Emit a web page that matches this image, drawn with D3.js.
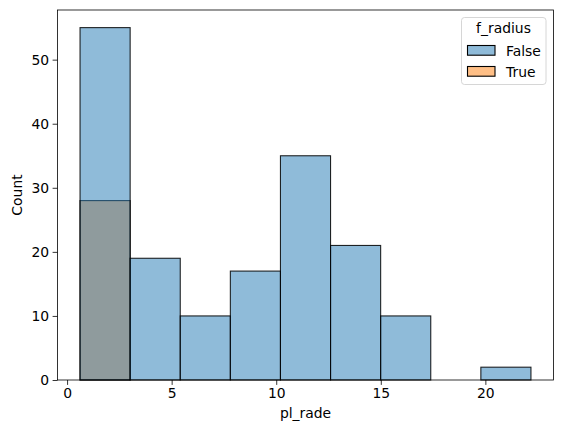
<!DOCTYPE html>
<html>
<head>
<meta charset="utf-8">
<script src="https://cdn.jsdelivr.net/npm/d3@7"></script>
<style>
body{margin:0;background:#fff;}
svg{display:block;font-family:"DejaVu Sans",sans-serif;}
</style>
</head>
<body>
<svg id="c" width="562" height="433"></svg>
<script>
const binStart = 0.62;
const binEnd = 22.18;
const countsFalse = [55, 19, 10, 17, 35, 21, 10, 0, 2];
const countsTrue = [28, 0, 0, 0, 0, 0, 0, 0, 0];
const xTicks = [0, 5, 10, 15, 20];
const yTicks = [0, 10, 20, 30, 40, 50];
const legendLabels = ["False", "True"];
const legendTitle = "f_radius";

const svg = d3.select("#c");
const L = 57.5, R = 553.5, T = 10, B = 380;
const nb = countsFalse.length;
const bw = (binEnd - binStart) / nb;
const span = binEnd - binStart;
const x = d3.scaleLinear().domain([binStart - 0.05 * span, binEnd + 0.05 * span]).range([L, R]);
const y = d3.scaleLinear().domain([0, d3.max(countsFalse) * 1.05]).range([B, T]);

const colFalse = "#1f77b4", colTrue = "#ff7f0e";

function drawBars(counts, col) {
  svg.append("g").selectAll("rect").data(counts).join("rect")
    .attr("x", (d, i) => x(binStart + i * bw))
    .attr("width", (d, i) => x(binStart + (i + 1) * bw) - x(binStart + i * bw))
    .attr("y", d => y(d))
    .attr("height", d => y(0) - y(d))
    .attr("fill", col).attr("fill-opacity", 0.5)
    .attr("stroke", "#000").attr("stroke-opacity", 0.85).attr("stroke-width", 1.1);
}
drawBars(countsTrue, colTrue);
drawBars(countsFalse, colFalse);

// axes
const xa = svg.append("g").attr("transform", `translate(0,${B})`)
  .call(d3.axisBottom(x).tickValues(xTicks).tickSize(4.9).tickPadding(3.5).tickFormat(d3.format("d")));
const ya = svg.append("g").attr("transform", `translate(${L},0)`)
  .call(d3.axisLeft(y).tickValues(yTicks).tickSize(4.9).tickPadding(3.5).tickFormat(d3.format("d")));
[xa, ya].forEach(a => {
  a.select(".domain").remove();
  a.selectAll("line").attr("stroke", "#000").attr("stroke-width", 0.8);
  a.selectAll("text").attr("font-size", "13.9px").attr("fill", "#000").attr("font-family", "DejaVu Sans");
});
svg.append("rect").attr("x", L).attr("y", T).attr("width", R - L).attr("height", B - T)
  .attr("fill", "none").attr("stroke", "#000").attr("stroke-width", 0.8);

svg.append("text").attr("x", (L + R) / 2).attr("y", 418).attr("text-anchor", "middle")
  .attr("font-size", "13.9px").text("pl_rade");
svg.append("text").attr("transform", `translate(21.5,${(T + B) / 2}) rotate(-90)`)
  .attr("text-anchor", "middle").attr("font-size", "13.9px").text("Count");

// legend
const lg = svg.append("g");
lg.append("rect").attr("x", 461.5).attr("y", 17.5).attr("width", 84.5).attr("height", 67)
  .attr("rx", 3).attr("fill", "#fff").attr("fill-opacity", 0.8).attr("stroke", "#cccccc").attr("stroke-width", 0.8);
lg.append("text").attr("x", 503.5).attr("y", 33).attr("text-anchor", "middle")
  .attr("font-size", "13.9px").text(legendTitle);
const lcols = [colFalse, colTrue];
legendLabels.forEach((lab, i) => {
  const yy = 45.5 + i * 21;
  lg.append("rect").attr("x", 467.5).attr("y", yy).attr("width", 27.5).attr("height", 9.7)
    .attr("fill", lcols[i]).attr("fill-opacity", 0.5).attr("stroke", "#000").attr("stroke-width", 1.1);
  lg.append("text").attr("x", 506).attr("y", yy + 10).attr("font-size", "13.9px").text(lab);
});
</script>
</body>
</html>
